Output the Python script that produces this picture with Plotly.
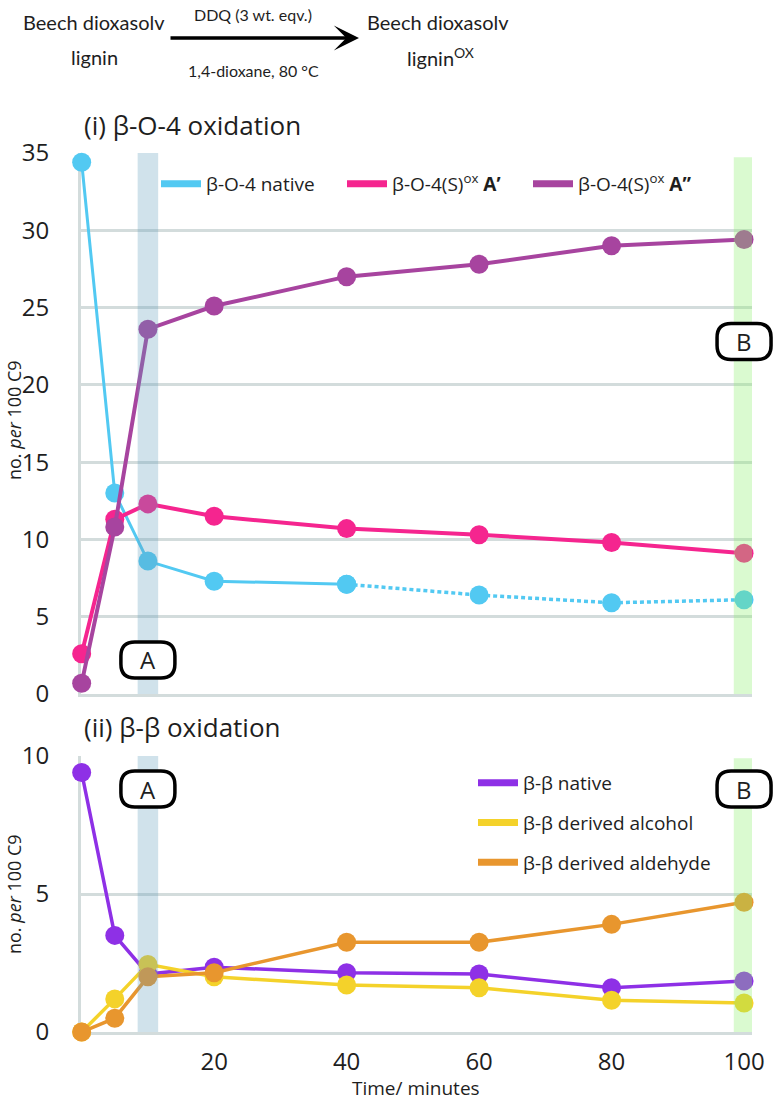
import plotly.graph_objects as go

# ---------------- data ----------------
time_min = [0, 5, 10, 20, 40, 60, 80, 100]

bo4_native = [34.4, 13.0, 8.6, 7.3, 7.1, 6.4, 5.9, 6.1]
bo4_ox_a1 = [2.6, 11.3, 12.3, 11.5, 10.7, 10.3, 9.8, 9.1]
bo4_ox_a2 = [0.7, 10.8, 23.6, 25.1, 27.0, 27.8, 29.0, 29.4]

bb_native = [9.4, 3.5, 2.1, 2.35, 2.15, 2.1, 1.6, 1.85]
bb_alcohol = [0.0, 1.2, 2.45, 2.0, 1.7, 1.6, 1.15, 1.05]
bb_aldehyde = [0.0, 0.5, 2.0, 2.15, 3.25, 3.25, 3.9, 4.7]

native_solid_until = 40  # β-O-4 native: solid line up to here, dotted after

names_bo4 = ["β-O-4 native", "β-O-4(S)<sup>ox</sup> <b>A’</b>", "β-O-4(S)<sup>ox</sup> <b>A”</b>"]
names_bb = ["β-β native", "β-β derived alcohol", "β-β derived aldehyde"]

y1_ticks = [0, 5, 10, 15, 20, 25, 30, 35]
y2_ticks = [0, 5, 10]
x_ticks = [20, 40, 60, 80, 100]

marks = ["A", "B"]
mark_times = [10, 100]
mark_y_panel1 = [2.2, 22.8]
mark_y_panel2 = [8.8, 8.8]

# ---------------- style ----------------
W, H = 776, 1101
C_CYAN = "#52c9f2"
C_PINK = "#f5258f"
C_MAG = "#a7449f"
C_VIO = "#8e30e6"
C_YEL = "#f4d22a"
C_ORA = "#e8962e"
GRID = "#d3dcdc"
TXT = "#1e1e1e"
FONT = "Open Sans"

def fx(p):
    return p / W

def fy(p):
    return 1 - p / H

xrange_ = [-0.1, 101.2]
x_left, x_right = 81, 752
xdom = [fx(x_left), fx(x_right)]
y1range, y2range = [0, 35], [0, 10]
y1dom = [fy(694), fy(153)]
y2dom = [fy(1032), fy(756)]

def to_paper(v, rng, dom):
    return dom[0] + (v - rng[0]) / (rng[1] - rng[0]) * (dom[1] - dom[0])

fig = go.Figure()

idx = time_min.index(native_solid_until)

def line_trace(x, y, color, xa, ya, width=3.5, dash=None):
    return go.Scatter(
        x=x, y=y, mode="lines+markers", xaxis=xa, yaxis=ya,
        line=dict(color=color, width=width, dash=dash),
        marker=dict(color=color, size=19),
        showlegend=False, cliponaxis=False, hoverinfo="skip",
    )

# panel (i)
fig.add_trace(line_trace(time_min[idx:], bo4_native[idx:], C_CYAN, "x", "y", 3.5, "4px,3px"))
fig.add_trace(line_trace(time_min[:idx + 1], bo4_native[:idx + 1], C_CYAN, "x", "y", 3))
fig.add_trace(line_trace(time_min, bo4_ox_a1, C_PINK, "x", "y", 4))
fig.add_trace(line_trace(time_min, bo4_ox_a2, C_MAG, "x", "y", 4))
# panel (ii)
fig.add_trace(line_trace(time_min, bb_native, C_VIO, "x2", "y2", 3.5))
fig.add_trace(line_trace(time_min, bb_alcohol, C_YEL, "x2", "y2", 3.5))
fig.add_trace(line_trace(time_min, bb_aldehyde, C_ORA, "x2", "y2", 3.5))

# legend entries
for name, col in zip(names_bo4, [C_CYAN, C_PINK, C_MAG]):
    fig.add_trace(go.Scatter(x=[None], y=[None], mode="lines", name=name,
                             line=dict(color=col, width=7), legend="legend",
                             xaxis="x", yaxis="y"))
for i, (name, col) in enumerate(zip(names_bb, [C_VIO, C_YEL, C_ORA])):
    fig.add_trace(go.Scatter(x=[None], y=[None], mode="lines", name=name,
                             line=dict(color=col, width=7), legend="legend2",
                             legendgroup="g%d" % i, xaxis="x2", yaxis="y2"))

# ---------------- shapes: highlight bands + labelled boxes ----------------
shapes = []
band_half = 1.55
for xr, yr, ymax in [("x", "y", y1range[1]), ("x2", "y2", y2range[1])]:
    shapes.append(dict(type="rect", xref=xr, yref=yr, x0=mark_times[0] - band_half,
                       x1=mark_times[0] + band_half, y0=0, y1=ymax, layer="above",
                       fillcolor="rgba(100,160,190,0.30)", line=dict(width=0)))
    shapes.append(dict(type="rect", xref=xr, yref=yr, x0=mark_times[1] - band_half,
                       x1=mark_times[1] + band_half, y0=0, y1=ymax * 0.992, layer="above",
                       fillcolor="rgba(140,240,110,0.32)", line=dict(width=0)))

bw, bh, r = 27, 18, 14
box_path = (f"M{-bw + r},{-bh} L{bw - r},{-bh} Q{bw},{-bh} {bw},{-bh + r} "
            f"L{bw},{bh - r} Q{bw},{bh} {bw - r},{bh} L{-bw + r},{bh} "
            f"Q{-bw},{bh} {-bw},{bh - r} L{-bw},{-bh + r} Q{-bw},{-bh} {-bw + r},{-bh} Z")

annotations = []
for yrng, ydom, ys in [(y1range, y1dom, mark_y_panel1), (y2range, y2dom, mark_y_panel2)]:
    for m, t, yv in zip(marks, mark_times, ys):
        px_ = to_paper(t, xrange_, xdom)
        py_ = to_paper(yv, yrng, ydom)
        shapes.append(dict(type="path", xref="paper", yref="paper", xsizemode="pixel",
                           ysizemode="pixel", xanchor=px_, yanchor=py_, path=box_path,
                           layer="above", fillcolor="white",
                           line=dict(color="black", width=3.5)))
        annotations.append(dict(xref="paper", yref="paper", x=px_, y=py_, text=m,
                                showarrow=False, font=dict(family=FONT, size=24, color=TXT),
                                xanchor="center", yanchor="middle"))

# ---------------- text: scheme, titles ----------------
SCH = dict(family="Lato", size=20, color=TXT)
def txt(x, y, s, size=None, family=None, xanchor="center", angle=0):
    f = dict(SCH)
    if size:
        f["size"] = size
    if family:
        f["family"] = family
    return dict(xref="paper", yref="paper", x=fx(x), y=fy(y), text=s, showarrow=False,
                xanchor=xanchor, yanchor="middle", font=f, textangle=angle)

annotations += [
    txt(94, 22, "Beech dioxasolv"),
    txt(94, 57, "lignin"),
    txt(438, 22, "Beech dioxasolv"),
    txt(440, 57, "lignin<sup>OX</sup>"),
    txt(253, 15, "DDQ (3 wt. eqv.)", size=16),
    txt(253, 70, "1,4-dioxane, 80 °C", size=16),
    dict(xref="paper", yref="paper", x=fx(359), y=fy(38), ax=-190, ay=0,
         axref="pixel", ayref="pixel", text="", showarrow=True, arrowhead=3,
         arrowsize=1.2, arrowwidth=3.5, arrowcolor="black"),
    txt(82, 125, "(i) β-O-4 oxidation", size=26, family=FONT, xanchor="left"),
    txt(82, 727, "(ii) β-β oxidation", size=26, family=FONT, xanchor="left"),
    txt(14, 420, "no. <i>per</i> 100 C9", size=18, family=FONT, angle=-90),
    txt(14, 894, "no. <i>per</i> 100 C9", size=18, family=FONT, angle=-90),
    txt(416, 1088, "Time/ minutes", size=19, family=FONT),
]

ax_common = dict(showgrid=False, zeroline=False, range=xrange_, showline=True,
                 linecolor=GRID, linewidth=3, layer="below traces", fixedrange=True)
y_common = dict(showgrid=True, gridcolor=GRID, gridwidth=3, zeroline=False,
                showline=True, linecolor=GRID, linewidth=3, layer="below traces",
                ticks="outside", ticklen=24, tickcolor="rgba(0,0,0,0)",
                tickfont=dict(family=FONT, size=24, color=TXT), automargin=False,
                fixedrange=True)

fig.update_layout(
    width=W, height=H,
    margin=dict(l=0, r=0, t=0, b=0, autoexpand=False),
    paper_bgcolor="white", plot_bgcolor="white",
    template="none",
    xaxis=dict(ax_common, domain=xdom, anchor="y", showticklabels=False, automargin=False),
    yaxis=dict(y_common, domain=y1dom, anchor="x", range=y1range, tickvals=y1_ticks),
    xaxis2=dict(ax_common, domain=xdom, anchor="y2", tickvals=x_ticks,
                ticks="outside", ticklen=6, tickcolor="rgba(0,0,0,0)",
                tickfont=dict(family=FONT, size=24, color=TXT), automargin=False),
    yaxis2=dict(y_common, domain=y2dom, anchor="x2", range=y2range, tickvals=y2_ticks),
    legend=dict(orientation="h", x=fx(156), y=fy(184), xanchor="left", yanchor="middle",
                font=dict(family=FONT, size=19, color=TXT), bgcolor="rgba(0,0,0,0)",
                entrywidth=131, itemwidth=40),
    legend2=dict(orientation="v", x=fx(473), y=fy(764), xanchor="left", yanchor="top",
                 font=dict(family=FONT, size=19, color=TXT), bgcolor="rgba(0,0,0,0)",
                 tracegroupgap=12, itemwidth=40),
    shapes=shapes,
    annotations=annotations,
    showlegend=True,
)

fig.write_html(
    "out.html",
    config={"displayModeBar": False},
    post_script="document.body.style.margin='0px';document.body.style.overflow='hidden';",
)
